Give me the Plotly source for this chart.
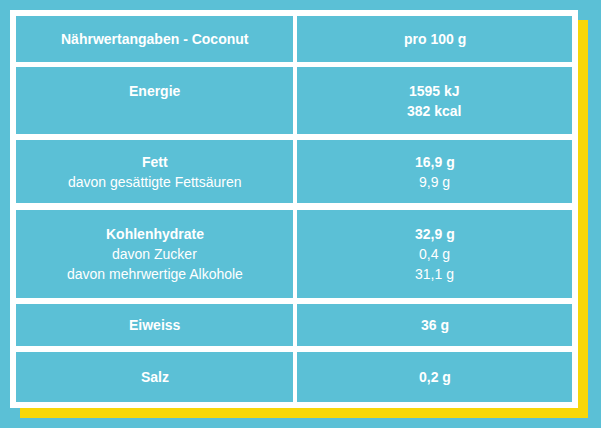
import plotly.graph_objects as go

# -------------------------
# Données
# -------------------------
header = ["Nährwertangaben - Coconut", "pro 100 g"]
labels = [
    ["Energie"],
    ["Fett", "davon gesättigte Fettsäuren"],
    ["Kohlenhydrate", "davon Zucker", "davon mehrwertige Alkohole"],
    ["Eiweiss"],
    ["Salz"],
]
values = [
    ["1595 kJ", "382 kcal"],
    ["16,9 g", "9,9 g"],
    ["32,9 g", "0,4 g", "31,1 g"],
    ["36 g"],
    ["0,2 g"],
]
# nombre de lignes en gras (en tête de cellule) par ligne du tableau
bold_count = [1, 2, 1, 1, 1, 1]

# -------------------------
# Mise en page (pixels)
# -------------------------
BG = "#5bc0d6"
YELLOW = "#f7d708"
W, H = 601, 428
frame = (10, 10, 578, 408)
col_edges = [16, 293, 297, 572]
row_edges = [16, 62, 67, 134, 140, 203, 210, 298, 304, 346, 352, 402]
LINE = 20

fig = go.Figure()
shapes = [
    dict(type="rect", x0=frame[0] + 10, y0=frame[1] + 10, x1=frame[2] + 10, y1=frame[3] + 10,
         fillcolor=YELLOW, line_width=0, layer="below"),
    dict(type="rect", x0=frame[0], y0=frame[1], x1=frame[2], y1=frame[3],
         fillcolor="white", line_width=0, layer="below"),
]
for r in range(len(row_edges) // 2):
    y0, y1 = row_edges[2 * r], row_edges[2 * r + 1]
    for c in range(2):
        shapes.append(dict(type="rect", x0=col_edges[2 * c], x1=col_edges[2 * c + 1],
                           y0=y0, y1=y1, fillcolor=BG, line_width=0, layer="below"))

rows = [[[header[0]], [header[1]]]] + [[l, v] for l, v in zip(labels, values)]
annotations = []
for r, (lab, val) in enumerate(rows):
    y0, y1 = row_edges[2 * r], row_edges[2 * r + 1]
    n = max(len(lab), len(val))
    top = (y0 + y1) / 2 - (n - 1) * LINE / 2
    for c, lines in enumerate([lab, val]):
        xc = (col_edges[2 * c] + col_edges[2 * c + 1]) / 2
        nb = bold_count[r] if c == 1 else 1
        for i, t in enumerate(lines):
            annotations.append(dict(
                x=xc, y=top + i * LINE, text=f"<b>{t}</b>" if i < nb else t,
                showarrow=False, xanchor="center", yanchor="middle",
                font=dict(family="Liberation Sans, Arial", size=14, color="white"),
            ))

fig.update_layout(
    width=W, height=H, margin=dict(l=0, r=0, t=0, b=0),
    paper_bgcolor=BG, plot_bgcolor=BG,
    xaxis=dict(range=[0, W], visible=False, fixedrange=True),
    yaxis=dict(range=[H, 0], visible=False, fixedrange=True),
    shapes=shapes, annotations=annotations, showlegend=False,
)
fig.write_html(
    "out.html",
    config={"displayModeBar": False},
    post_script="document.body.style.margin='0';document.body.style.background='#5bc0d6';",
)
